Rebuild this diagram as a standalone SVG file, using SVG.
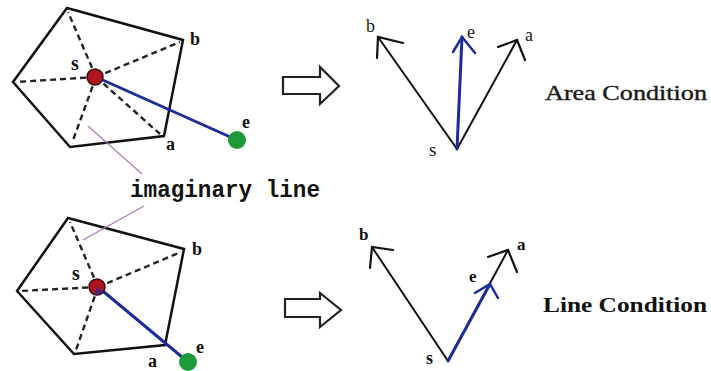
<svg xmlns="http://www.w3.org/2000/svg" width="711" height="371" viewBox="0 0 711 371">
<style>
.poly{fill:none;stroke:#111;stroke-width:2.5;stroke-linejoin:miter}
.dash{stroke:#222;stroke-width:2.4;stroke-dasharray:6 4;fill:none}
.blue{stroke:#1c2c98;stroke-width:3;fill:none;stroke-linecap:round}
.blk{stroke:#111;stroke-width:2;fill:none;stroke-linecap:round}
.head{stroke:#111;stroke-width:2.2;fill:none;stroke-linecap:round}
.bhead{stroke:#1c2c98;stroke-width:2.5;fill:none;stroke-linecap:round}
.purple{stroke:#a878b8;stroke-width:1.2;fill:none}
.red{fill:#b0141e;stroke:#3a0a10;stroke-width:1.5}
.green{fill:#1f9a3a}
.lbl{font-family:"Liberation Serif",serif;font-weight:bold;fill:#111}
.big{fill:#fff;stroke:#222;stroke-width:2.2;stroke-linejoin:miter}
.cap{font-family:"Liberation Serif",serif;fill:#1a1a1a}
</style>
<rect width="711" height="371" fill="#fff"/>

<g id="polygon-top">
<polygon class="poly" points="67,8 183,40 164,136 70,147 13,82"/>
<line class="dash" x1="96" y1="77" x2="68" y2="12"/>
<line class="dash" x1="96" y1="77" x2="180" y2="42"/>
<line class="dash" x1="96" y1="77" x2="160" y2="134"/>
<line class="dash" x1="96" y1="77" x2="72" y2="143"/>
<line class="dash" x1="96" y1="77" x2="16" y2="82"/>
</g>

<g id="polygon-bottom">
<polygon class="poly" points="68,218 184,249 165,345 74,354 17,291"/>
<line class="dash" x1="98" y1="287" x2="70" y2="222"/>
<line class="dash" x1="98" y1="287" x2="181" y2="252"/>
<line class="dash" x1="98" y1="287" x2="76" y2="350"/>
<line class="dash" x1="98" y1="287" x2="20" y2="291"/>
</g>

<g id="connectors">
<line class="blue" x1="96" y1="77" x2="237" y2="140"/>
<line class="blue" x1="98" y1="287" x2="188" y2="362"/>
<line class="purple" x1="88" y1="126" x2="142" y2="174"/>
<line class="purple" x1="144" y1="206" x2="83" y2="240"/>
<line class="blk" x1="457" y1="149" x2="378" y2="37"/>
<polyline class="head" points="403,43 378,37 377,58"/>
<line class="blk" x1="457" y1="149" x2="517" y2="40"/>
<polyline class="head" points="498,47 517,40 525,60"/>
<line class="blue" x1="457" y1="149" x2="462" y2="37"/>
<polyline class="bhead" points="453,52 462,37 475,53"/>
<line class="blk" x1="448" y1="361" x2="372" y2="247"/>
<polyline class="head" points="393,250 372,247 370,268"/>
<line class="blk" x1="448" y1="361" x2="508" y2="250"/>
<polyline class="head" points="488,257 508,250 517,272"/>
<line class="blue" x1="448" y1="361" x2="490" y2="284"/>
<polyline class="bhead" points="475,293 490,284 498,298"/>
</g>

<g id="s-top"><circle class="red" cx="95" cy="77" r="8"/></g>
<g id="e-top"><circle class="green" cx="237" cy="140" r="9"/></g>
<g id="s-bottom"><circle class="red" cx="97" cy="287" r="8"/><path d="M97,287 L104,292 A8,8 0 0 1 94,294 Z" fill="#1c2c98" opacity="0.6"/></g>
<g id="e-bottom"><circle class="green" cx="188" cy="362" r="9"/></g>

<g id="arrow-top"><path class="big" d="M283,77 H320 V67 L339,86 L320,104 V94 H283 Z"/></g>
<g id="arrow-bottom"><path class="big" d="M285,299 H320 V293 L341,310 L320,327 V317 H285 Z"/></g>

<g id="labels">
<text class="lbl" x="71" y="70" font-size="20">s</text>
<text class="lbl" x="190" y="45" font-size="18">b</text>
<text class="lbl" x="166" y="150" font-size="18">a</text>
<text class="lbl" x="242" y="128" font-size="18">e</text>
<text class="lbl" x="72" y="280" font-size="20">s</text>
<text class="lbl" x="192" y="255" font-size="18">b</text>
<text class="lbl" x="148" y="367" font-size="18">a</text>
<text class="lbl" x="196" y="353" font-size="18">e</text>

<text class="cap" x="366" y="32" font-size="18">b</text>
<text class="cap" x="467" y="38" font-size="18">e</text>
<text class="cap" x="525" y="41" font-size="18">a</text>
<text class="cap" x="429" y="156" font-size="19">s</text>
<text class="lbl" x="359" y="240" font-size="17">b</text>
<text class="lbl" x="517" y="250" font-size="17">a</text>
<text class="lbl" x="469" y="282" font-size="17">e</text>
<text class="lbl" x="426" y="364" font-size="18">s</text>

<text x="130" y="197" font-family="'Liberation Mono',monospace" font-weight="bold" font-size="24" textLength="190" lengthAdjust="spacingAndGlyphs" fill="#111">imaginary line</text>
<text class="cap" x="545" y="100" font-size="22" textLength="162" lengthAdjust="spacingAndGlyphs" stroke="#1a1a1a" stroke-width="0.4">Area Condition</text>
<text class="lbl" x="543" y="312" font-size="22" textLength="164" lengthAdjust="spacingAndGlyphs">Line Condition</text>
</g>
</svg>
